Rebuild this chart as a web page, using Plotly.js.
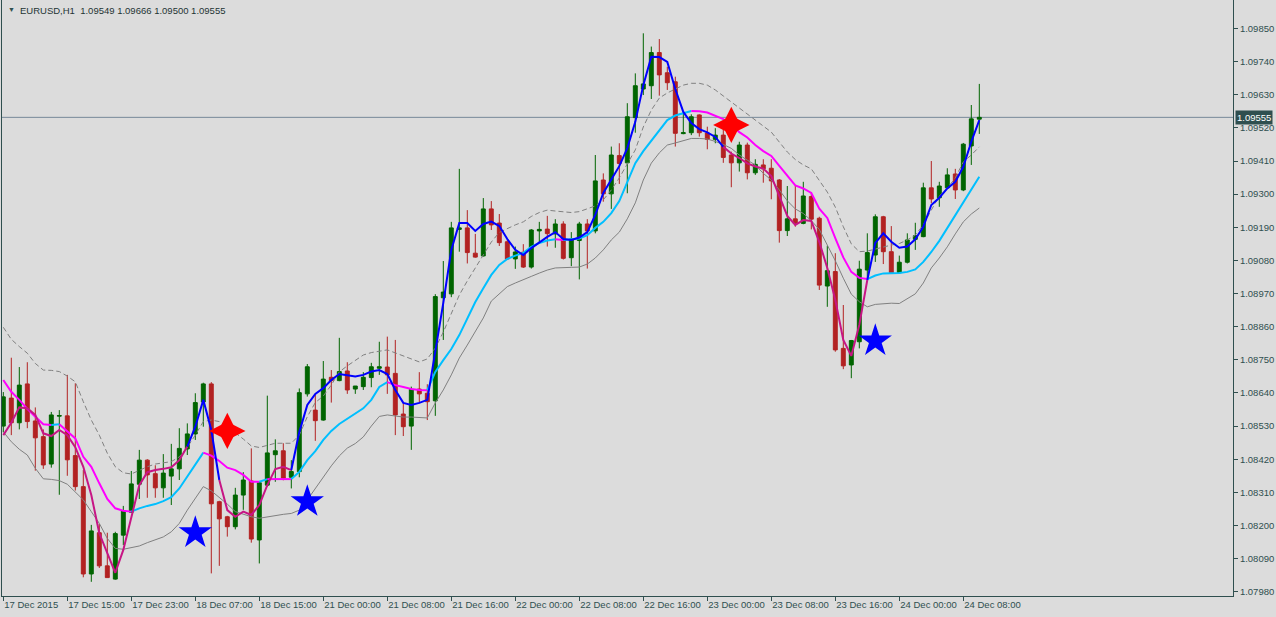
<!DOCTYPE html>
<html>
<head>
<meta charset="utf-8">
<script src="https://cdn.plot.ly/plotly-3.0.1.min.js"></script>
<style>
html,body{margin:0;padding:0;background:#dcdcdc;}
#chart{width:1276px;height:617px;}
</style>
</head>
<body>
<div id="chart"></div>
<script>
// ---- data (EURUSD H1, one value per bar, bar index 0..122) ----
const tickLabels = ['17 Dec 2015','17 Dec 15:00','17 Dec 23:00','18 Dec 07:00','18 Dec 15:00','21 Dec 00:00','21 Dec 08:00','21 Dec 16:00','22 Dec 00:00','22 Dec 08:00','22 Dec 16:00','23 Dec 00:00','23 Dec 08:00','23 Dec 16:00','24 Dec 00:00','24 Dec 08:00'];
const barsPerTick = 8;

const openP = [1.08530,1.08623,1.08541,1.08670,1.08547,1.08495,1.08404,1.08563,1.08564,1.08432,
 1.08329,1.08039,1.08176,1.08066,1.08022,1.08168,1.08244,1.08337,1.08417,1.08372,
 1.08325,1.08364,1.08388,1.08454,1.08504,1.08610,1.08670,1.08279,1.08229,1.08196,
 1.08301,1.08348,1.08152,1.08334,1.08435,1.08448,1.08360,1.08379,1.08637,1.08583,
 1.08550,1.08692,1.08681,1.08713,1.08653,1.08661,1.08691,1.08722,1.08726,1.08705,
 1.08570,1.08530,1.08653,1.08639,1.08614,1.08956,1.08969,1.09183,1.09188,1.09104,
 1.09095,1.09251,1.09204,1.09142,1.09085,1.09107,1.09058,1.09178,1.09184,1.09168,
 1.09201,1.09089,1.09146,1.09201,1.09178,1.09347,1.09301,1.09428,1.09404,1.09554,
 1.09649,1.09660,1.09770,1.09703,1.09673,1.09501,1.09504,1.09563,1.09503,1.09482,
 1.09496,1.09430,1.09404,1.09463,1.09371,1.09397,1.09386,1.09347,1.09179,1.09218,
 1.09203,1.09292,1.09220,1.08995,1.09043,1.08788,1.08733,1.08810,1.09048,1.09098,
 1.09225,1.09109,1.09039,1.09074,1.09150,1.09159,1.09321,1.09288,1.09321,1.09367,
 1.09314,1.09460,1.09549];
const highP = [1.08643,1.08757,1.08726,1.08742,1.08592,1.08519,1.08577,1.08583,1.08700,1.08672,
 1.08384,1.08202,1.08205,1.08176,1.08179,1.08265,1.08381,1.08451,1.08420,1.08400,
 1.08437,1.08471,1.08523,1.08539,1.08639,1.08674,1.08676,1.08282,1.08232,1.08325,
 1.08377,1.08456,1.08345,1.08631,1.08486,1.08473,1.08417,1.08655,1.08736,1.08637,
 1.08746,1.08716,1.08823,1.08742,1.08663,1.08709,1.08740,1.08810,1.08827,1.08816,
 1.08606,1.08661,1.08709,1.08669,1.08968,1.09078,1.09208,1.09384,1.09247,1.09168,
 1.09287,1.09277,1.09234,1.09150,1.09126,1.09134,1.09184,1.09208,1.09228,1.09217,
 1.09210,1.09174,1.09208,1.09217,1.09430,1.09369,1.09458,1.09469,1.09602,1.09701,
 1.09834,1.09790,1.09815,1.09723,1.09690,1.09568,1.09565,1.09565,1.09524,1.09519,
 1.09524,1.09441,1.09474,1.09471,1.09416,1.09416,1.09416,1.09350,1.09327,1.09327,
 1.09341,1.09306,1.09225,1.09129,1.09104,1.08932,1.08816,1.09079,1.09170,1.09233,
 1.09228,1.09194,1.09096,1.09170,1.09205,1.09338,1.09410,1.09341,1.09386,1.09384,
 1.09470,1.09596,1.09666];
const lowP = [1.08510,1.08500,1.08519,1.08523,1.08382,1.08388,1.08392,1.08302,1.08365,1.08316,
 1.08028,1.08013,1.08059,1.08027,1.08020,1.08135,1.08242,1.08288,1.08292,1.08292,
 1.08292,1.08268,1.08351,1.08434,1.08484,1.08528,1.08041,1.08066,1.08163,1.08187,
 1.08252,1.08143,1.08074,1.08329,1.08345,1.08350,1.08323,1.08360,1.08628,1.08481,
 1.08548,1.08608,1.08679,1.08637,1.08637,1.08650,1.08659,1.08700,1.08637,1.08500,
 1.08497,1.08451,1.08606,1.08550,1.08564,1.08816,1.08958,1.09109,1.09070,1.09089,
 1.09093,1.09181,1.09128,1.09082,1.09052,1.09055,1.09053,1.09136,1.09126,1.09122,
 1.09083,1.09061,1.09017,1.09053,1.09170,1.09275,1.09251,1.09334,1.09303,1.09504,
 1.09629,1.09616,1.09627,1.09646,1.09458,1.09499,1.09496,1.09491,1.09449,1.09469,
 1.09404,1.09323,1.09375,1.09349,1.09364,1.09338,1.09283,1.09139,1.09161,1.09192,
 1.09200,1.09183,1.08982,1.08926,1.08777,1.08719,1.08689,1.08788,1.09022,1.09075,
 1.09068,1.09037,1.09037,1.09070,1.09115,1.09157,1.09270,1.09258,1.09319,1.09284,
 1.09310,1.09397,1.09500];
const closeP = [1.08627,1.08541,1.08666,1.08545,1.08491,1.08401,1.08567,1.08565,1.08418,1.08329,
 1.08039,1.08182,1.08066,1.08027,1.08173,1.08248,1.08338,1.08417,1.08368,1.08325,
 1.08374,1.08388,1.08456,1.08504,1.08608,1.08670,1.08272,1.08222,1.08196,1.08301,
 1.08351,1.08155,1.08342,1.08441,1.08448,1.08357,1.08379,1.08641,1.08727,1.08548,
 1.08686,1.08681,1.08711,1.08650,1.08663,1.08692,1.08727,1.08727,1.08700,1.08567,
 1.08528,1.08652,1.08637,1.08611,1.08960,1.08975,1.09188,1.09188,1.09106,1.09091,
 1.09251,1.09198,1.09139,1.09085,1.09108,1.09058,1.09181,1.09183,1.09169,1.09201,
 1.09087,1.09151,1.09201,1.09178,1.09344,1.09301,1.09430,1.09402,1.09557,1.09660,
 1.09666,1.09770,1.09696,1.09670,1.09502,1.09504,1.09557,1.09504,1.09482,1.09496,
 1.09422,1.09404,1.09463,1.09371,1.09399,1.09384,1.09344,1.09179,1.09218,1.09203,
 1.09294,1.09217,1.08998,1.09046,1.08783,1.08730,1.08814,1.09051,1.09106,1.09225,
 1.09109,1.09039,1.09074,1.09148,1.09162,1.09321,1.09284,1.09327,1.09364,1.09314,
 1.09466,1.09550,1.09555];

// fast line (blue / violet-red)
const fastLine = [1.08500,1.08541,1.08592,1.08589,1.08567,1.08506,1.08497,1.08517,1.08500,1.08460,
 1.08395,1.08301,1.08174,1.08108,1.08043,1.08119,1.08229,1.08334,1.08377,1.08384,
 1.08388,1.08393,1.08417,1.08462,1.08528,1.08617,1.08517,1.08351,1.08251,1.08229,
 1.08246,1.08235,1.08268,1.08334,1.08387,1.08395,1.08384,1.08510,1.08600,1.08637,
 1.08656,1.08683,1.08703,1.08700,1.08695,1.08700,1.08711,1.08716,1.08703,1.08650,
 1.08607,1.08600,1.08607,1.08617,1.08773,1.08939,1.09115,1.09204,1.09204,1.09178,
 1.09201,1.09209,1.09194,1.09151,1.09115,1.09098,1.09121,1.09141,1.09158,1.09174,
 1.09151,1.09148,1.09156,1.09174,1.09231,1.09304,1.09347,1.09393,1.09453,1.09540,
 1.09662,1.09756,1.09755,1.09739,1.09649,1.09573,1.09536,1.09516,1.09505,1.09490,
 1.09457,1.09435,1.09420,1.09402,1.09392,1.09385,1.09360,1.09291,1.09228,1.09198,
 1.09214,1.09211,1.09141,1.09055,1.08949,1.08816,1.08763,1.08866,1.09015,1.09138,
 1.09170,1.09142,1.09122,1.09126,1.09150,1.09192,1.09264,1.09288,1.09319,1.09341,
 1.09391,1.09474,1.09546];
// slow line (deep sky blue / magenta)
const slowLine = [1.08683,1.08644,1.08617,1.08587,1.08561,1.08536,1.08534,1.08536,1.08511,1.08489,
 1.08428,1.08395,1.08340,1.08288,1.08257,1.08249,1.08246,1.08257,1.08265,1.08271,
 1.08281,1.08294,1.08323,1.08362,1.08401,1.08442,1.08432,1.08414,1.08392,1.08384,
 1.08368,1.08345,1.08345,1.08354,1.08354,1.08354,1.08354,1.08378,1.08417,1.08447,
 1.08484,1.08514,1.08537,1.08555,1.08570,1.08589,1.08617,1.08660,1.08676,1.08666,
 1.08660,1.08653,1.08650,1.08649,1.08710,1.08749,1.08786,1.08832,1.08889,1.08942,
 1.08988,1.09032,1.09065,1.09085,1.09096,1.09105,1.09125,1.09138,1.09146,1.09150,
 1.09148,1.09150,1.09153,1.09164,1.09188,1.09208,1.09237,1.09277,1.09340,1.09403,
 1.09443,1.09478,1.09511,1.09546,1.09561,1.09568,1.09576,1.09575,1.09571,1.09560,
 1.09549,1.09530,1.09506,1.09488,1.09463,1.09443,1.09427,1.09394,1.09360,1.09329,
 1.09319,1.09304,1.09252,1.09221,1.09154,1.09090,1.09042,1.09022,1.09018,1.09030,
 1.09037,1.09037,1.09038,1.09042,1.09050,1.09075,1.09108,1.09145,1.09188,1.09229,
 1.09274,1.09319,1.09358];
const upperBand = [1.08858,1.08818,1.08794,1.08772,1.08738,1.08716,1.08715,1.08711,1.08696,1.08677,
 1.08611,1.08550,1.08500,1.08440,1.08395,1.08375,1.08371,1.08384,1.08395,1.08404,
 1.08407,1.08412,1.08428,1.08460,1.08500,1.08545,1.08550,1.08545,1.08528,1.08508,
 1.08487,1.08464,1.08459,1.08466,1.08473,1.08473,1.08473,1.08500,1.08561,1.08608,
 1.08630,1.08666,1.08710,1.08730,1.08749,1.08766,1.08774,1.08778,1.08783,1.08773,
 1.08763,1.08754,1.08743,1.08753,1.08789,1.08842,1.08902,1.08965,1.09012,1.09055,
 1.09098,1.09141,1.09173,1.09186,1.09198,1.09208,1.09226,1.09239,1.09247,1.09244,
 1.09241,1.09239,1.09242,1.09251,1.09261,1.09281,1.09314,1.09354,1.09400,1.09447,
 1.09523,1.09579,1.09619,1.09636,1.09649,1.09662,1.09668,1.09668,1.09662,1.09646,
 1.09626,1.09606,1.09585,1.09566,1.09543,1.09525,1.09506,1.09473,1.09440,1.09415,
 1.09397,1.09384,1.09345,1.09307,1.09257,1.09192,1.09135,1.09109,1.09111,1.09118,
 1.09125,1.09131,1.09136,1.09148,1.09164,1.09198,1.09247,1.09294,1.09320,1.09354,
 1.09407,1.09430,1.09457];
const lowerBand = [1.08511,1.08478,1.08453,1.08434,1.08390,1.08355,1.08353,1.08349,1.08337,1.08312,
 1.08285,1.08246,1.08207,1.08157,1.08124,1.08121,1.08126,1.08132,1.08143,1.08152,
 1.08162,1.08179,1.08207,1.08251,1.08290,1.08329,1.08315,1.08294,1.08271,1.08246,
 1.08238,1.08229,1.08224,1.08229,1.08234,1.08237,1.08240,1.08251,1.08285,1.08324,
 1.08361,1.08398,1.08431,1.08457,1.08472,1.08494,1.08530,1.08562,1.08567,1.08564,
 1.08560,1.08560,1.08559,1.08557,1.08607,1.08650,1.08700,1.08756,1.08799,1.08846,
 1.08889,1.08945,1.08969,1.08993,1.09005,1.09015,1.09027,1.09038,1.09048,1.09055,
 1.09057,1.09057,1.09058,1.09068,1.09088,1.09115,1.09148,1.09174,1.09218,1.09271,
 1.09347,1.09403,1.09437,1.09463,1.09470,1.09478,1.09485,1.09485,1.09483,1.09475,
 1.09465,1.09452,1.09430,1.09413,1.09397,1.09369,1.09347,1.09314,1.09278,1.09251,
 1.09236,1.09212,1.09183,1.09131,1.09079,1.09021,1.08968,1.08943,1.08926,1.08934,
 1.08937,1.08938,1.08937,1.08954,1.08969,1.09005,1.09055,1.09088,1.09125,1.09168,
 1.09208,1.09234,1.09254];

// colour state of each line: [first bar of run, state]
const fastRuns = [[0,'dn'],[24,'up'],[28,'dn'],[37,'up'],[91,'dn'],[109,'up']];
const slowRuns = [[0,'dn'],[7,'up'],[8,'dn'],[17,'up'],[26,'dn'],[33,'up'],[34,'dn'],[37,'up'],[49,'dn'],[54,'up'],[70,'dn'],[71,'up'],[87,'dn'],[109,'up']];

// signal arrows
const sellBars = [28, 91];
const sellPrices = [1.08514, 1.09530];
const buyBars = [24, 38, 109];
const buyPrices = [1.08176, 1.08279, 1.08813];

const lastPrice = 1.09555;
const headerText = 'EURUSD,H1\u00a0\u00a01.09549 1.09666 1.09500 1.09555';
const priceTicks = [1.07980,1.08090,1.08200,1.08310,1.08420,1.08530,1.08640,1.08750,1.08860,1.08970,1.09080,1.09190,1.09300,1.09410,1.09520,1.09630,1.09740,1.09850];

// ---- build ----
const idx = openP.map((_, i) => i);
const FONT = 'Liberation Sans, Arial, sans-serif';
const INK = '#2f4f4f';

function stateAt(runs, k) {
  let s = runs[0][1];
  for (const [start, st] of runs) if (k >= start) s = st;
  return s;
}
function segTraces(vals, runs, colors, width) {
  const out = []; let cur = null;
  for (let k = 1; k < vals.length; k++) {
    const st = stateAt(runs, k);
    if (!cur || cur.st !== st) { cur = {st: st, x: [k - 1], y: [vals[k - 1]]}; out.push(cur); }
    cur.x.push(k); cur.y.push(vals[k]);
  }
  return out.map(t => ({type: 'scatter', mode: 'lines', x: t.x, y: t.y,
    line: {color: colors[t.st], width: width}, hoverinfo: 'skip', showlegend: false}));
}

const traces = [];
traces.push({
  type: 'candlestick', x: idx, open: openP, high: highP, low: lowP, close: closeP,
  increasing: {line: {color: '#006400', width: 1}, fillcolor: '#006400'},
  decreasing: {line: {color: '#b22222', width: 1}, fillcolor: '#b22222'},
  whiskerwidth: 0, hoverinfo: 'skip', showlegend: false
});
traces.push({type: 'scatter', mode: 'lines', x: idx, y: upperBand,
  line: {color: '#808080', width: 1, dash: '5px,3px'}, hoverinfo: 'skip', showlegend: false});
traces.push({type: 'scatter', mode: 'lines', x: idx, y: lowerBand,
  line: {color: '#808080', width: 1}, hoverinfo: 'skip', showlegend: false});
segTraces(slowLine, slowRuns, {up: '#00bfff', dn: '#ff00ff'}, 2).forEach(t => traces.push(t));
segTraces(fastLine, fastRuns, {up: '#0000ff', dn: '#c71585'}, 2).forEach(t => traces.push(t));
// sell signal: 4-point sparkle = tall thin diamond + wide thin diamond
traces.push({type: 'scatter', mode: 'markers', x: sellBars, y: sellPrices,
  marker: {symbol: 'diamond-tall', size: 26, color: '#ff0000', line: {width: 0}}, hoverinfo: 'skip', showlegend: false});
traces.push({type: 'scatter', mode: 'markers', x: sellBars, y: sellPrices,
  marker: {symbol: 'diamond-wide', size: 26, color: '#ff0000', line: {width: 0}}, hoverinfo: 'skip', showlegend: false});
traces.push({type: 'scatter', mode: 'markers', x: sellBars, y: sellPrices,
  marker: {symbol: 'diamond', size: 10, color: '#ff0000', line: {width: 0}}, hoverinfo: 'skip', showlegend: false});
traces.push({type: 'scatter', mode: 'markers', x: buyBars, y: buyPrices,
  marker: {symbol: 'star', size: 25, color: '#0000ff', line: {width: 0}}, hoverinfo: 'skip', showlegend: false});

const pxPerBar = 8;
const plotW = 1231;
const x0 = -1.3 / pxPerBar;

const layout = {
  width: 1276, height: 617,
  margin: {l: 2, r: 43, t: 0, b: 21},
  paper_bgcolor: '#dcdcdc', plot_bgcolor: '#dcdcdc',
  showlegend: false,
  font: {family: FONT, size: 9.5, color: INK},
  xaxis: {
    range: [x0, x0 + plotW / pxPerBar],
    tickvals: tickLabels.map((_, i) => i * barsPerTick),
    ticktext: tickLabels,
    tickangle: 0,
    ticks: 'outside', ticklen: 4, tickwidth: 1, tickcolor: INK,
    ticklabelposition: 'outside right',
    tickfont: {family: FONT, size: 9.5, color: INK},
    showline: true, linecolor: INK, linewidth: 1,
    showgrid: false, zeroline: false,
    rangeslider: {visible: false}, fixedrange: true
  },
  yaxis: {
    side: 'right',
    range: [1.079659, 1.099446],
    tickvals: priceTicks,
    tickformat: '.5f',
    ticks: 'outside', ticklen: 4, tickwidth: 1, tickcolor: INK,
    tickfont: {family: FONT, size: 9.5, color: INK},
    showline: true, mirror: true, linecolor: INK, linewidth: 1,
    showgrid: false, zeroline: false, fixedrange: true
  },
  shapes: [{
    type: 'line', xref: 'paper', x0: 0, x1: 1, yref: 'y', y0: lastPrice, y1: lastPrice,
    line: {color: '#778899', width: 1}, layer: 'below'
  }],
  annotations: [
    {xref: 'paper', yref: 'paper', x: 0, y: 1, xanchor: 'left', yanchor: 'top',
     xshift: 4, yshift: -4, text: '\u25BC', showarrow: false,
     font: {family: FONT, size: 7, color: INK}},
    {xref: 'paper', yref: 'paper', x: 0, y: 1, xanchor: 'left', yanchor: 'top',
     xshift: 16, yshift: -3, text: headerText, showarrow: false,
     font: {family: FONT, size: 9.5, color: '#1e3434'}},
    {xref: 'paper', yref: 'y', x: 1, y: lastPrice, xanchor: 'left', yanchor: 'middle',
     xshift: 2, text: lastPrice.toFixed(5), showarrow: false,
     bgcolor: '#2f4f4f', borderpad: 1,
     font: {family: FONT, size: 9.5, color: '#ffffff'}}
  ]
};

Plotly.newPlot('chart', traces, layout, {staticPlot: true, displayModeBar: false});
</script>
</body>
</html>
